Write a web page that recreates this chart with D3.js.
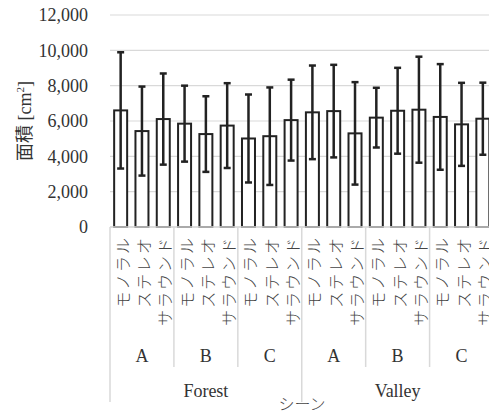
<!DOCTYPE html>
<html>
<head>
<meta charset="utf-8">
<script src="https://cdn.jsdelivr.net/npm/d3@7"></script>
<style>
  body { margin: 0; background: #fff; }
  svg { display: block; }
  .grid line { stroke: #d9d9d9; stroke-width: 1.2; }
  .tick-label { font-family: "Liberation Serif", "Noto Sans CJK JP", serif; font-size: 18px; fill: #333; }
  .cat { font-family: "Noto Sans CJK JP", sans-serif; font-size: 16px; fill: #444; font-weight: 300; }
</style>
</head>
<body>
<div id="chart"></div>
<script>
  // scenes / sub scenes / sound conditions
  var scenes = ['Forest', 'Valley'];
  var subScenes = ['A', 'B', 'C'];
  var sounds = ['モノラル', 'ステレオ', 'サラウンド'];

  // mean area [cm2], order: scene > sub scene > sound
  var means = [6600, 5430, 6110, 5850, 5260, 5740, 5010, 5140, 6050,
               6490, 6560, 5300, 6190, 6580, 6640, 6230, 5810, 6130];
  // standard deviation
  var errors = [3290, 2520, 2580, 2150, 2140, 2400, 2490, 2760, 2290,
                2650, 2620, 2900, 1690, 2430, 3000, 2990, 2350, 2040];

  var yTicks = [0, 2000, 4000, 6000, 8000, 10000, 12000];

  var W = 489, H = 412;
  var plot = { left: 110, right: 493.5, top: 15, bottom: 227 };

  var rows = [];
  scenes.forEach(function (s) {
    subScenes.forEach(function (g) {
      sounds.forEach(function (c) {
        rows.push({ scene: s, sub: g, sound: c });
      });
    });
  });
  rows.forEach(function (r, i) { r.i = i; r.mean = means[i]; r.err = errors[i]; });

  var svg = d3.select('#chart').append('svg')
    .attr('width', W)
    .attr('height', H);

  var x = d3.scaleBand()
    .domain(d3.range(rows.length))
    .range([plot.left, plot.right])
    .paddingInner(0.39)
    .paddingOuter(0.195);

  var y = d3.scaleLinear()
    .domain([0, 12000])
    .range([plot.bottom, plot.top]);

  // grid
  svg.append('g').attr('class', 'grid')
    .selectAll('line')
    .data(yTicks)
    .enter().append('line')
    .attr('x1', plot.left)
    .attr('x2', plot.right)
    .attr('y1', function (d) { return y(d); })
    .attr('y2', function (d) { return y(d); });

  // y tick labels
  svg.append('g')
    .selectAll('text')
    .data(yTicks)
    .enter().append('text')
    .attr('class', 'tick-label')
    .attr('x', 88)
    .attr('y', function (d) { return y(d); })
    .attr('dy', '0.35em')
    .attr('text-anchor', 'end')
    .text(d3.format(','));

  // y title
  var yt = svg.append('text')
    .attr('class', 'tick-label')
    .attr('transform', 'translate(31,121) rotate(-90)')
    .attr('text-anchor', 'middle');
  yt.append('tspan').text('面積 [cm');
  yt.append('tspan').attr('font-size', '11px').attr('dy', '-7').text('2');
  yt.append('tspan').attr('dy', '7').text(']');

  // bars
  svg.append('g')
    .selectAll('rect')
    .data(rows)
    .enter().append('rect')
    .attr('x', function (d) { return x(d.i); })
    .attr('width', x.bandwidth())
    .attr('y', function (d) { return y(d.mean); })
    .attr('height', function (d) { return y(0) - y(d.mean); })
    .attr('fill', '#fff')
    .attr('stroke', '#222')
    .attr('stroke-width', 2);

  // error bars
  var eb = svg.append('g')
    .attr('stroke', '#222')
    .attr('stroke-width', 2.5)
    .selectAll('g')
    .data(rows)
    .enter().append('g')
    .attr('transform', function (d) { return 'translate(' + (x(d.i) + x.bandwidth() / 2) + ',0)'; });
  eb.append('line')
    .attr('y1', function (d) { return y(d.mean + d.err); })
    .attr('y2', function (d) { return y(d.mean - d.err); });
  eb.append('line')
    .attr('x1', -3.5).attr('x2', 3.5)
    .attr('y1', function (d) { return y(d.mean + d.err); })
    .attr('y2', function (d) { return y(d.mean + d.err); });
  eb.append('line')
    .attr('x1', -3.5).attr('x2', 3.5)
    .attr('y1', function (d) { return y(d.mean - d.err); })
    .attr('y2', function (d) { return y(d.mean - d.err); });

  // x axis line
  svg.append('line')
    .attr('x1', plot.left).attr('x2', plot.right)
    .attr('y1', y(0)).attr('y2', y(0))
    .attr('stroke', '#d9d9d9').attr('stroke-width', 1.5);

  // category labels (rotated), spread to the reference's char pitch
  var pitch = 18.2;
  svg.append('g')
    .selectAll('text')
    .data(rows)
    .enter().append('text')
    .attr('class', 'cat')
    .attr('text-anchor', 'end')
    .attr('dominant-baseline', 'central')
    .attr('textLength', function (d) { return d.sound.length * pitch - 3; })
    .attr('lengthAdjust', 'spacing')
    .attr('transform', function (d) {
      return 'translate(' + (x(d.i) + x.bandwidth() / 2 + 1) + ',238) rotate(-90)';
    })
    .text(function (d) { return d.sound; });

  var step = x.step();
  var groupW = step * sounds.length;

  // divider lines
  var dividers = d3.range(scenes.length * subScenes.length + 1);
  svg.append('g')
    .selectAll('line')
    .data(dividers)
    .enter().append('line')
    .attr('x1', function (k) { return plot.left + k * groupW; })
    .attr('x2', function (k) { return plot.left + k * groupW; })
    .attr('y1', y(0))
    .attr('y2', function (k) { return k % subScenes.length === 0 ? 402 : 367; })
    .attr('stroke', '#d9d9d9')
    .attr('stroke-width', 1.5);

  // sub scene labels
  var subs = [];
  scenes.forEach(function (s, si) {
    subScenes.forEach(function (g, gi) { subs.push({ name: g, k: si * subScenes.length + gi }); });
  });
  svg.append('g')
    .selectAll('text')
    .data(subs)
    .enter().append('text')
    .attr('class', 'tick-label')
    .attr('text-anchor', 'middle')
    .attr('x', function (d) { return plot.left + (d.k + 0.5) * groupW; })
    .attr('y', 362)
    .text(function (d) { return d.name; });

  // scene labels
  svg.append('g')
    .selectAll('text')
    .data(scenes)
    .enter().append('text')
    .attr('class', 'tick-label')
    .attr('text-anchor', 'middle')
    .attr('x', function (d, i) { return plot.left + (i + 0.5) * groupW * subScenes.length; })
    .attr('y', 397)
    .text(function (d) { return d; });

  // x title
  svg.append('text')
    .attr('class', 'cat')
    .attr('font-size', '17px')
    .attr('text-anchor', 'middle')
    .attr('x', 302)
    .attr('y', 410)
    .text('シーン');
</script>
</body>
</html>
